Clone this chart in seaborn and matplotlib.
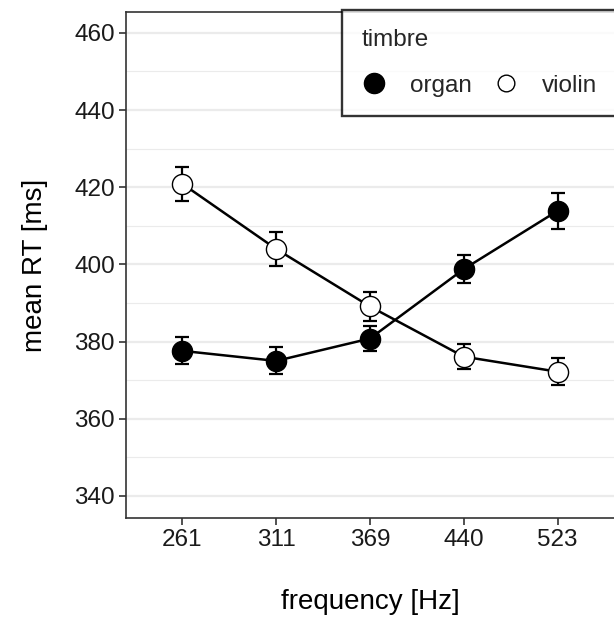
import numpy as np
import pandas as pd
import matplotlib.pyplot as plt
import seaborn as sns
from matplotlib.lines import Line2D
from matplotlib.ticker import MultipleLocator

# values
frequencies = ["261", "311", "369", "440", "523"]
timbres = ["organ", "violin"]
organ_rt = [377.6, 375.0, 380.8, 398.8, 413.9]
organ_err = [3.5, 3.5, 3.3, 3.6, 4.6]
violin_rt = [420.9, 404.0, 389.1, 376.1, 372.2]
violin_err = [4.4, 4.3, 3.7, 3.2, 3.5]
y_ticks = [340, 360, 380, 400, 420, 440, 460]

df = pd.DataFrame({
    "frequency": frequencies * 2,
    "rt": organ_rt + violin_rt,
    "err": organ_err + violin_err,
    "timbre": ["organ"] * len(frequencies) + ["violin"] * len(frequencies),
})

sns.set_theme(style="ticks")
plt.rcParams['font.family'] = ['Liberation Sans', 'DejaVu Sans']

fig = plt.figure(figsize=(6.14, 6.19), dpi=100)
ax = fig.add_axes([126 / 614, 1 - 518 / 619, 1 - 126 / 614, (518 - 12) / 619])

# error bars first, so the points sit on top
positions = np.arange(len(frequencies))
for t in timbres:
    sub = df[df["timbre"] == t]
    ax.errorbar(positions, sub["rt"], yerr=sub["err"], fmt="none",
                ecolor="black", elinewidth=1.6, capsize=5, capthick=1.6, zorder=2)

sns.pointplot(data=df, x="frequency", y="rt", hue="timbre",
              order=frequencies, hue_order=timbres,
              palette={"organ": "black", "violin": "black"},
              errorbar=None, markers="o", linestyles="-",
              markersize=14.5, linewidth=1.8, markeredgewidth=1.0,
              legend=False, ax=ax)

# violin points are open circles
for line in ax.lines:
    ydata = np.asarray(line.get_ydata(), dtype=float)
    if len(ydata) == len(violin_rt) and np.allclose(ydata, violin_rt):
        line.set_markerfacecolor("white")
        line.set_markeredgecolor("black")
    line.set_zorder(3)

ax.set_xlim(-0.6, 4.6)
ax.set_ylim(334.3, 465.4)
ax.set_yticks(y_ticks)
ax.yaxis.set_minor_locator(MultipleLocator(10))
ax.set_axisbelow(True)
ax.yaxis.grid(True, which="major", color="#EBEBEB", linewidth=1.6)
ax.yaxis.grid(True, which="minor", color="#EBEBEB", linewidth=0.8)
ax.xaxis.grid(False)

ax.tick_params(axis="both", which="major", length=5, width=1.2, color="#333333",
               labelsize=17.5, labelcolor="#1a1a1a", pad=3)
ax.tick_params(axis="y", which="minor", length=0)

for side in ["left", "bottom", "top"]:
    ax.spines[side].set_color("#333333")
    ax.spines[side].set_linewidth(1.2)
ax.spines["right"].set_visible(False)

ax.set_xlabel("frequency [Hz]", fontsize=20, labelpad=27, color="black")
ax.set_ylabel("mean RT [ms]", fontsize=20, labelpad=19, color="black")

handles = [
    Line2D([], [], marker="o", linestyle="", markersize=14.5,
           markerfacecolor="black", markeredgecolor="black", markeredgewidth=1.0),
    Line2D([], [], marker="o", linestyle="", markersize=12,
           markerfacecolor="white", markeredgecolor="black", markeredgewidth=1.0),
]
leg = ax.legend(handles, timbres, title="timbre", ncol=2,
                loc="upper left", bbox_to_anchor=(342 / 614, 1 - 10 / 619),
                bbox_transform=fig.transFigure, borderaxespad=0,
                fontsize=17.5, title_fontsize=17.5, alignment="left",
                frameon=True, fancybox=False, edgecolor="black",
                handlelength=1.0, handletextpad=1.0, columnspacing=0.9,
                borderpad=0.8, labelspacing=0.95)
leg.get_frame().set_linewidth(1.7)
leg.set_zorder(5)

fig.savefig("out.png", dpi=100)
